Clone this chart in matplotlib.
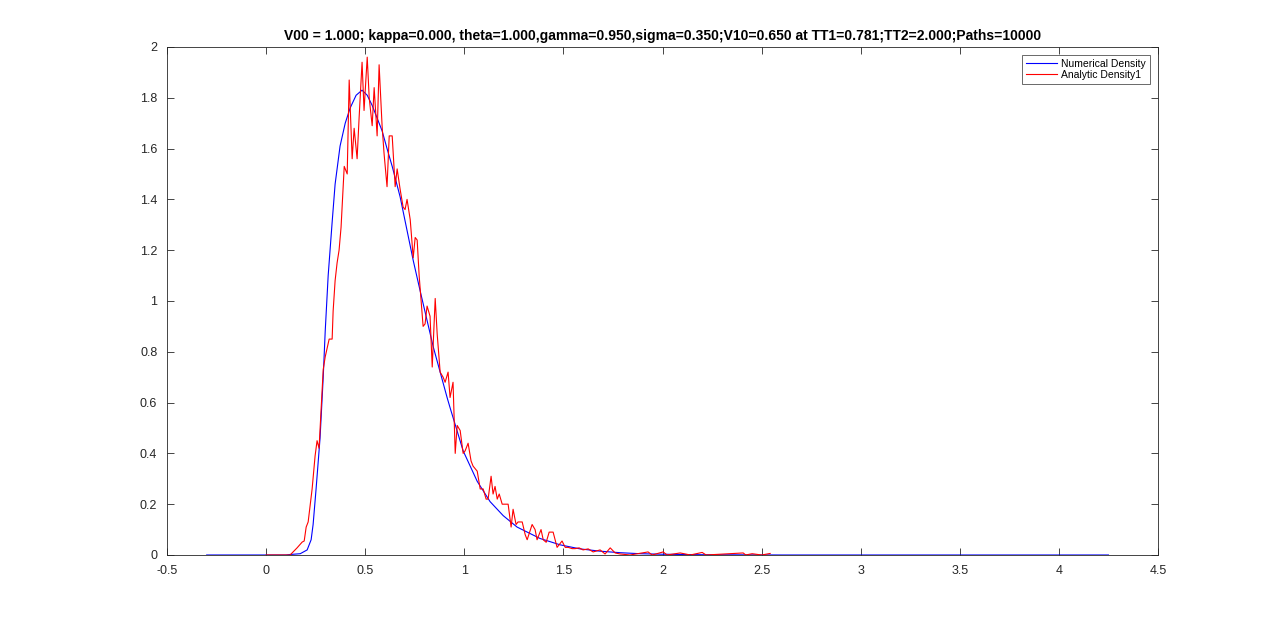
import matplotlib
matplotlib.use('Agg')
import matplotlib.pyplot as plt
from matplotlib.ticker import FuncFormatter

# Numerical density (smooth curve)
num_x = [-0.30, 0.10, 0.121, 0.172, 0.207, 0.227, 0.237, 0.252, 0.262, 0.272, 0.288,
         0.298, 0.313, 0.333, 0.348, 0.373, 0.399, 0.424, 0.454, 0.484, 0.510, 0.535,
         0.560, 0.585, 0.610, 0.636, 0.676, 0.742, 0.777, 0.843, 0.913, 0.928, 0.994,
         1.065, 1.130, 1.196, 1.266, 1.382, 1.483, 1.584, 1.685, 1.786, 1.887, 2.0,
         2.2, 2.6, 4.25]
num_y = [0.0, 0.0, 0.002, 0.005, 0.02, 0.06, 0.12, 0.26, 0.36, 0.46, 0.70,
         0.88, 1.10, 1.31, 1.46, 1.61, 1.70, 1.76, 1.81, 1.83, 1.81, 1.77,
         1.72, 1.67, 1.60, 1.53, 1.41, 1.16, 1.04, 0.82, 0.62, 0.58, 0.41,
         0.29, 0.21, 0.155, 0.11, 0.065, 0.04, 0.024, 0.015, 0.009, 0.005, 0.003,
         0.001, 0.0, 0.0]

# Analytic density (noisy curve)
ana_x = [0.0, 0.121, 0.156, 0.182, 0.192, 0.202, 0.212, 0.232, 0.247, 0.257, 0.267,
         0.288, 0.298, 0.318, 0.333, 0.338, 0.348, 0.358, 0.368, 0.378, 0.394, 0.409,
         0.419, 0.434, 0.444, 0.459, 0.469, 0.484, 0.494, 0.510, 0.520, 0.535, 0.545,
         0.560, 0.570, 0.585, 0.595, 0.610, 0.621, 0.636, 0.651, 0.661, 0.676, 0.691,
         0.701, 0.711, 0.727, 0.742, 0.752, 0.762, 0.772, 0.792, 0.802, 0.812, 0.827,
         0.838, 0.853, 0.863, 0.878, 0.893, 0.903, 0.918, 0.928, 0.943, 0.954, 0.964,
         0.979, 0.994, 1.004, 1.019, 1.034, 1.044, 1.065, 1.080, 1.095, 1.110, 1.120,
         1.135, 1.145, 1.155, 1.166, 1.176, 1.191, 1.206, 1.221, 1.236, 1.246, 1.261,
         1.271, 1.292, 1.307, 1.317, 1.342, 1.357, 1.367, 1.387, 1.398, 1.413, 1.428,
         1.448, 1.468, 1.493, 1.509, 1.524, 1.544, 1.559, 1.579, 1.599, 1.625, 1.650,
         1.685, 1.710, 1.736, 1.761, 1.786, 1.836, 1.927, 1.948, 2.003, 2.023, 2.089,
         2.140, 2.200, 2.220, 2.407, 2.420, 2.452, 2.500, 2.543]
ana_y = [0.0, 0.0, 0.028, 0.051, 0.055, 0.11, 0.13, 0.26, 0.39, 0.45, 0.42,
         0.73, 0.78, 0.85, 0.85, 0.96, 1.08, 1.15, 1.20, 1.29, 1.53, 1.50,
         1.87, 1.56, 1.68, 1.56, 1.72, 1.94, 1.75, 1.96, 1.80, 1.69, 1.84,
         1.65, 1.93, 1.69, 1.58, 1.45, 1.65, 1.65, 1.45, 1.52, 1.44, 1.37,
         1.36, 1.40, 1.32, 1.17, 1.25, 1.24, 1.10, 0.90, 0.91, 0.98, 0.94,
         0.74, 1.01, 0.87, 0.72, 0.70, 0.68, 0.72, 0.62, 0.68, 0.40, 0.51,
         0.49, 0.40, 0.41, 0.44, 0.37, 0.35, 0.33, 0.26, 0.26, 0.22, 0.22,
         0.31, 0.24, 0.27, 0.22, 0.24, 0.20, 0.20, 0.20, 0.11, 0.18, 0.12,
         0.13, 0.13, 0.08, 0.06, 0.12, 0.10, 0.06, 0.10, 0.06, 0.05, 0.09,
         0.09, 0.03, 0.055, 0.03, 0.03, 0.025, 0.025, 0.028, 0.02, 0.024, 0.012,
         0.02, 0.004, 0.028, 0.008, 0.004, 0.0, 0.012, 0.0, 0.012, 0.0, 0.008,
         0.0, 0.01, 0.0, 0.008, 0.0, 0.005, 0.0, 0.006]

title = ('V00 = 1.000; kappa=0.000, theta=1.000,gamma=0.950,sigma=0.350;'
         'V10=0.650 at TT1=0.781;TT2=2.000;Paths=10000')

plt.rcParams['font.family'] = ['Liberation Sans', 'DejaVu Sans']
fig = plt.figure(figsize=(12.8, 6.24), dpi=100)
ax = fig.add_axes([0.1305, 0.1106, 0.7742, 0.8141])

ax.plot(num_x, num_y, color='#0000ff', lw=0.8, label='Numerical Density')
ax.plot(ana_x, ana_y, color='#ff0000', lw=0.8, label='Analytic Density1')

ax.set_xlim(-0.5, 4.5)
ax.set_ylim(0, 2)
ax.set_xticks([-0.5, 0, 0.5, 1, 1.5, 2, 2.5, 3, 3.5, 4, 4.5])
ax.set_yticks([0, 0.2, 0.4, 0.6, 0.8, 1, 1.2, 1.4, 1.6, 1.8, 2])
fmt = FuncFormatter(lambda v, p: '%g' % round(v, 3))
ax.xaxis.set_major_formatter(fmt)
ax.yaxis.set_major_formatter(fmt)

ax_col = '#262626'
for s in ax.spines.values():
    s.set_color(ax_col)
    s.set_linewidth(0.6)
ax.tick_params(direction='in', length=5, width=0.6, colors=ax_col,
               labelsize=9, top=True, right=True, pad=7)

ax.set_title(title, fontsize=10, fontweight='bold', pad=5)

leg = ax.legend(loc='upper right', fontsize=7.5, frameon=True, fancybox=False,
                handlelength=3.0, handletextpad=0.4, borderaxespad=0.8,
                borderpad=0.35, labelspacing=0.1)
leg.get_frame().set_edgecolor(ax_col)
leg.get_frame().set_linewidth(0.6)

fig.savefig('out.png', dpi=100, facecolor='white')
